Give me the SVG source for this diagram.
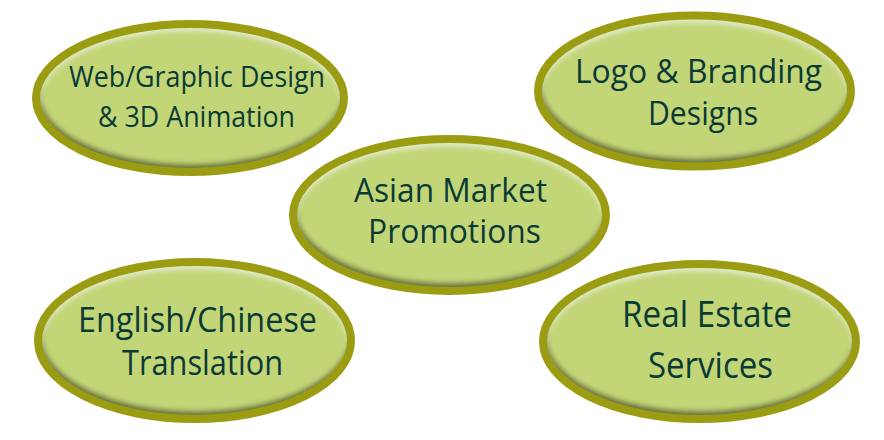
<svg xmlns="http://www.w3.org/2000/svg" width="884" height="440" viewBox="0 0 884 440">
<defs>
<filter id="bevel" x="-10%" y="-15%" width="120%" height="130%">
  <feComponentTransfer in="SourceAlpha" result="inv"><feFuncA type="table" tableValues="1 0"/></feComponentTransfer>
  <feGaussianBlur in="inv" stdDeviation="2.5" result="blur"/>
  <feOffset in="blur" dx="1" dy="-5" result="offDark"/>
  <feFlood flood-color="#3a3a20" flood-opacity="0.8"/>
  <feComposite in2="offDark" operator="in" result="dark"/>
  <feComposite in="dark" in2="SourceAlpha" operator="in" result="darkIn"/>
  <feOffset in="blur" dx="0" dy="4" result="offLight"/>
  <feFlood flood-color="#ffffff" flood-opacity="0.5"/>
  <feComposite in2="offLight" operator="in" result="light"/>
  <feComposite in="light" in2="SourceAlpha" operator="in" result="lightIn"/>
  <feMerge><feMergeNode in="SourceGraphic"/><feMergeNode in="darkIn"/><feMergeNode in="lightIn"/></feMerge>
</filter>
</defs>
<style>
.fill{fill:#c3d677;filter:url(#bevel)}
.ring{fill:none;stroke:#9c9c12;stroke-width:8}
text{font-family:"Open Sans","Noto Sans",sans-serif;fill:#0a3a35;text-anchor:middle}
</style>
<rect width="884" height="440" fill="#ffffff"/>
<g id="connectors"/>
<g id="web">
  <ellipse class="fill" cx="190" cy="98" rx="151" ry="71"/>
  <ellipse class="ring" cx="190" cy="98" rx="154" ry="74"/>
  <text x="197" y="87" font-size="29" textLength="256" lengthAdjust="spacingAndGlyphs">Web/Graphic Design</text>
  <text x="196.5" y="127" font-size="29" textLength="197" lengthAdjust="spacingAndGlyphs">&amp; 3D Animation</text>
</g>
<g id="logo">
  <ellipse class="fill" cx="694.5" cy="91" rx="153.5" ry="72.5"/>
  <ellipse class="ring" cx="694.5" cy="91" rx="156.5" ry="75.5"/>
  <text x="698.5" y="83" font-size="33" textLength="247" lengthAdjust="spacingAndGlyphs">Logo &amp; Branding</text>
  <text x="703" y="125" font-size="33" textLength="110" lengthAdjust="spacingAndGlyphs">Designs</text>
</g>
<g id="asian">
  <ellipse class="fill" cx="449.5" cy="215" rx="153.5" ry="73"/>
  <ellipse class="ring" cx="449.5" cy="215" rx="156.5" ry="76"/>
  <text x="450.5" y="202" font-size="33" textLength="193" lengthAdjust="spacingAndGlyphs">Asian Market</text>
  <text x="454.5" y="243" font-size="33" textLength="173" lengthAdjust="spacingAndGlyphs">Promotions</text>
</g>
<g id="english">
  <ellipse class="fill" cx="194.5" cy="340.5" rx="153.5" ry="75.5"/>
  <ellipse class="ring" cx="194.5" cy="340.5" rx="156.5" ry="78.5"/>
  <text x="197.5" y="332" font-size="34" textLength="239" lengthAdjust="spacingAndGlyphs">English/Chinese</text>
  <text x="202.5" y="375" font-size="34" textLength="161" lengthAdjust="spacingAndGlyphs">Translation</text>
</g>
<g id="realestate">
  <ellipse class="fill" cx="699.5" cy="341.5" rx="153.5" ry="74.5"/>
  <ellipse class="ring" cx="699.5" cy="341.5" rx="156.5" ry="77.5"/>
  <text x="707" y="327" font-size="37" textLength="170" lengthAdjust="spacingAndGlyphs">Real Estate</text>
  <text x="710.5" y="378" font-size="37" textLength="125" lengthAdjust="spacingAndGlyphs">Services</text>
</g>
</svg>
